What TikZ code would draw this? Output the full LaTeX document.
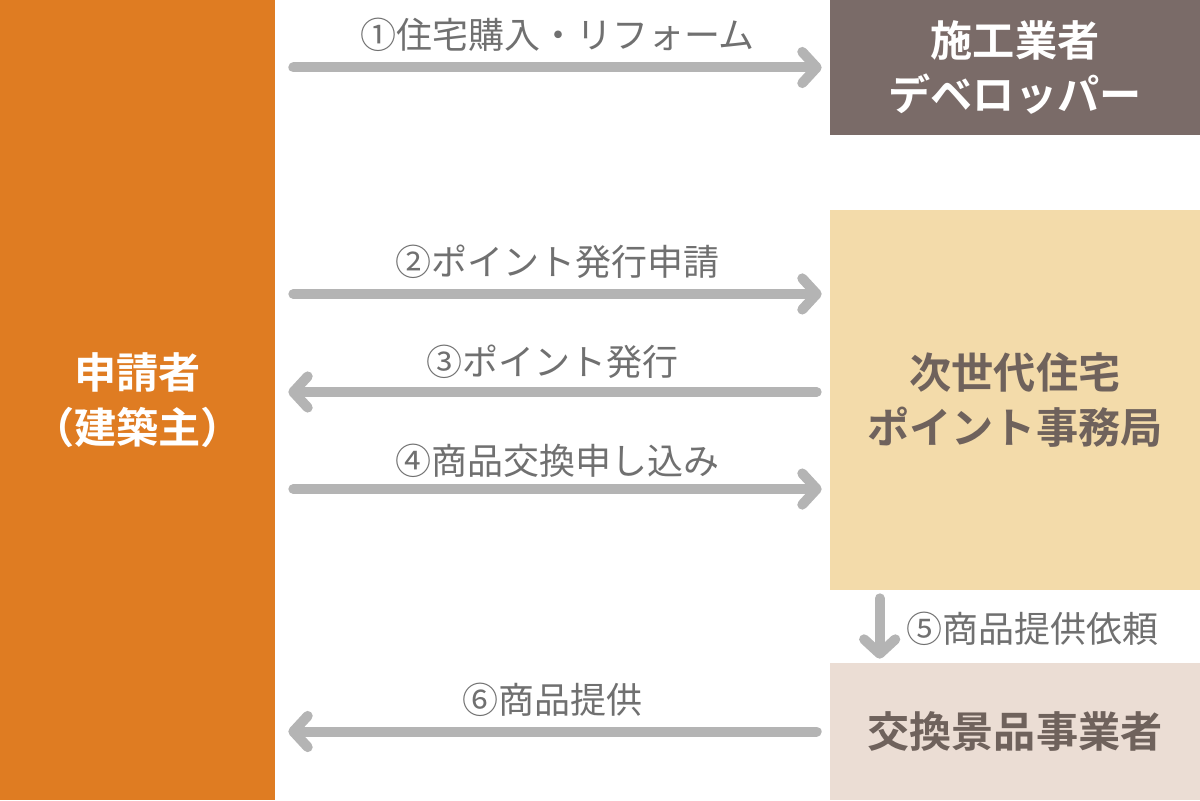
\documentclass[tikz,border=0pt]{standalone}
\usepackage{fontspec}
\setmainfont{Noto Sans CJK JP}[BoldFont={Noto Sans CJK JP Bold}]
\usetikzlibrary{arrows.meta}
\definecolor{applicantc}{HTML}{DF7C22}
\definecolor{builderc}{HTML}{7A6B68}
\definecolor{officec}{HTML}{F3DBAA}
\definecolor{vendorc}{HTML}{EBDDD4}
\definecolor{flowc}{HTML}{B4B4B4}
\definecolor{labelc}{HTML}{707070}
\definecolor{boxtextc}{HTML}{6F625C}
\begin{document}
\begin{tikzpicture}[x=0.025cm,y=-0.025cm,
box/.style={inner sep=0pt,align=center,font=\fontsize{30pt}{39pt}\selectfont\bfseries},
flow/.style={draw=flowc,line width=0.25cm,line cap=round,
  -{Straight Barb[length=0.36cm,width=0.78cm,round]}},
flowlabel/.style={text=labelc,font=\fontsize{25.6pt}{30pt}\selectfont,inner sep=0pt}]
\useasboundingbox (0,0) rectangle (1200,800);
\node[box,fill=applicantc,text=white,minimum width=6.875cm,minimum height=20cm] (applicant) at (137.5,400) {申請者\\（建築主）};
\node[box,fill=builderc,text=white,minimum width=9.25cm,minimum height=3.375cm] (builder) at (1015,67.5) {施工業者\\デベロッパー};
\node[box,fill=officec,text=boxtextc,minimum width=9.25cm,minimum height=9.5cm] (office) at (1015,400) {次世代住宅\\ポイント事務局};
\node[box,fill=vendorc,text=boxtextc,minimum width=9.25cm,minimum height=3.425cm] (vendor) at (1015,731.5) {交換景品事業者};
\draw[flow] ([xshift=0.45cm]applicant.east |- builder.west) -- ([xshift=-0.2cm]builder.west)
  node[flowlabel,midway,yshift=0.82cm] {①住宅購入・リフォーム};
\draw[flow] ([xshift=0.45cm,yshift=2.65cm]applicant.east |- office.west) -- ([xshift=-0.2cm,yshift=2.65cm]office.west)
  node[flowlabel,midway,yshift=0.8cm] {②ポイント発行申請};
\draw[flow] ([xshift=-0.325cm,yshift=0.2cm]office.west) -- ([xshift=0.325cm,yshift=0.2cm]applicant.east |- office.west)
  node[flowlabel,midway,yshift=0.75cm] {③ポイント発行};
\draw[flow] ([xshift=0.45cm,yshift=-2.225cm]applicant.east |- office.west) -- ([xshift=-0.2cm,yshift=-2.225cm]office.west)
  node[flowlabel,midway,yshift=0.7cm] {④商品交換申し込み};
\draw[flow] ([xshift=1.25cm,yshift=-0.2cm]office.south west) -- ([xshift=1.25cm,yshift=0.1cm]vendor.north west)
  node[flowlabel,midway,anchor=west,xshift=0.55cm] {⑤商品提供依頼};
\draw[flow] ([xshift=-0.325cm]vendor.west) -- ([xshift=0.325cm]applicant.east |- vendor.west)
  node[flowlabel,midway,yshift=0.8cm] {⑥商品提供};
\end{tikzpicture}
\end{document}
